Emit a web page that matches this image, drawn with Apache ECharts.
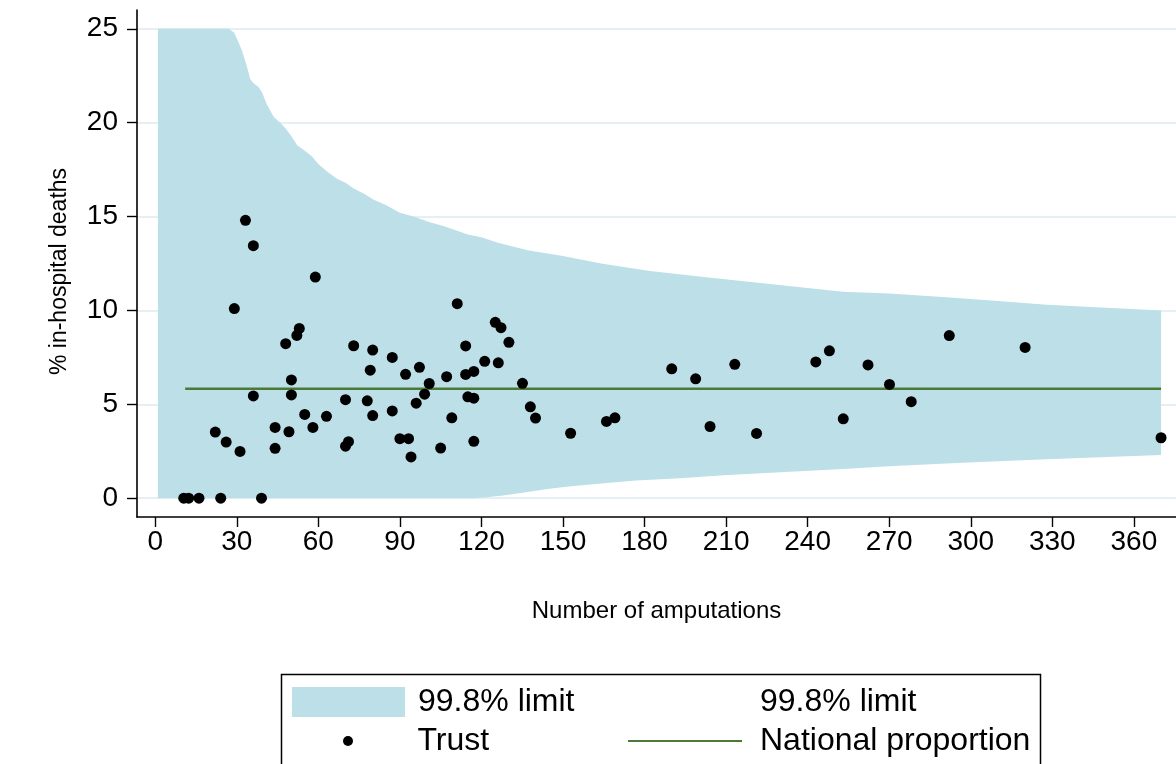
<!DOCTYPE html>
<html><head><meta charset="utf-8">
<script src="https://cdn.jsdelivr.net/npm/echarts@6/dist/echarts.min.js"></script>
<style>html,body{margin:0;padding:0;background:#fff}#c{width:1176px;height:764px}</style>
</head><body><div id="c"></div>
<script>
// ---- data ----
const xTicks = [0, 30, 60, 90, 120, 150, 180, 210, 240, 270, 300, 330, 360];
const yTicks = [0, 5, 10, 15, 20, 25];

// 99.8% control limits (upper capped at 25)
const upperN = [1, 27, 29, 30, 32, 33.7, 35, 36.2, 38, 39.3, 41, 43.6, 46, 47.9, 50, 52.2, 55, 57.7, 60, 63.2, 67, 70, 73, 77, 80.4, 85, 90, 95, 101, 106, 110, 115, 120, 126, 137, 150, 164, 182, 201, 220, 240, 253, 270, 291, 310, 328, 350, 370];
const upperPct = [25, 25, 24.8, 24.5, 23.8, 23.0, 22.3, 22.1, 21.9, 21.6, 21.0, 20.3, 20.0, 19.7, 19.3, 18.8, 18.5, 18.2, 17.8, 17.4, 17.0, 16.8, 16.5, 16.2, 15.9, 15.6, 15.2, 15.0, 14.7, 14.5, 14.3, 14.05, 13.9, 13.6, 13.2, 12.9, 12.5, 12.1, 11.8, 11.5, 11.2, 11.0, 10.9, 10.7, 10.5, 10.3, 10.15, 10.0];
const lowerN = [1, 117, 122, 128, 137, 145, 152, 165, 177, 193, 209, 230, 253, 270, 291, 310, 328, 350, 370];
const lowerPct = [0, 0, 0.05, 0.15, 0.33, 0.5, 0.63, 0.8, 0.95, 1.07, 1.22, 1.38, 1.55, 1.7, 1.85, 1.97, 2.08, 2.2, 2.3];

// Trusts: number of amputations and % in-hospital deaths
const trustN = [10.5, 12.3, 16.1, 24.1, 39.1, 22.1, 26.1, 29.1, 31.2, 33.2, 36.1, 36.1, 44.1, 44.1, 48.0, 49.2, 50.1, 50.1, 52.1, 53.0, 55.0, 58.0, 58.9, 63.0, 70.0, 70.0, 71.1, 73.0, 78.0, 79.1, 80.0, 80.0, 87.2, 87.2, 90.0, 92.1, 93.2, 94.1, 96.0, 97.2, 99.1, 100.8, 105.0, 107.2, 109.1, 111.1, 114.2, 114.2, 115.0, 117.2, 117.2, 117.2, 121.2, 125.1, 126.2, 127.2, 130.1, 135.1, 138.0, 139.9, 152.8, 166.0, 169.1, 190.0, 198.8, 204.1, 213.2, 221.2, 243.0, 248.0, 253.1, 262.2, 270.1, 278.1, 292.1, 320.0, 370.0];
const trustPct = [0, 0, 0, 0, 0, 3.52, 2.99, 10.1, 2.49, 14.8, 13.45, 5.45, 3.77, 2.66, 8.23, 3.54, 6.3, 5.5, 8.67, 9.04, 4.46, 3.77, 11.78, 4.36, 5.25, 2.77, 3.01, 8.12, 5.19, 6.82, 7.89, 4.4, 7.5, 4.65, 3.17, 6.6, 3.17, 2.2, 5.06, 6.97, 5.54, 6.11, 2.67, 6.47, 4.28, 10.36, 8.11, 6.59, 5.4, 6.75, 5.33, 3.03, 7.29, 9.37, 7.21, 9.08, 8.3, 6.12, 4.87, 4.27, 3.46, 4.09, 4.28, 6.89, 6.36, 3.82, 7.13, 3.45, 7.26, 7.85, 4.23, 7.1, 6.06, 5.14, 8.66, 8.03, 3.22];

const nationalN = [11, 370];
const nationalPct = 5.83;

// ---- chart ----
const FONT = 'Liberation Sans';
const BAND = '#bddfe8';
const GREEN = '#4b7a38';
const chart = echarts.init(document.getElementById('c'), null, {renderer: 'canvas'});

const trustData = trustN.map((n, i) => [n, trustPct[i]]);
const nationalData = nationalN.map(n => [n, nationalPct]);

const option = {
  animation: false,
  backgroundColor: '#ffffff',
  textStyle: {fontFamily: FONT},
  grid: {left: 137, right: 0, top: 10, bottom: 247, containLabel: false, outerBoundsMode: 'none'},
  xAxis: {
    type: 'value', min: -6.7, max: 375.5,
    name: 'Number of amputations', nameLocation: 'middle', nameGap: 82,
    nameTextStyle: {fontFamily: FONT, fontSize: 24, color: '#000'},
    axisLine: {show: true, onZero: false, lineStyle: {color: '#000', width: 1.6}},
    axisTick: {show: true, length: 10, customValues: xTicks, lineStyle: {color: '#000', width: 1.4}},
    axisLabel: {customValues: xTicks, fontFamily: FONT, fontSize: 28, color: '#000', margin: 11},
    splitLine: {show: false}
  },
  yAxis: {
    type: 'value', min: -1, max: 26,
    name: '% in-hospital deaths', nameLocation: 'middle', nameGap: 66, nameRotate: 90,
    nameTextStyle: {fontFamily: FONT, fontSize: 23, color: '#000', padding: [0, 16, 0, 0]},
    axisLine: {show: true, onZero: false, lineStyle: {color: '#000', width: 1.6}},
    axisTick: {show: true, length: 10, customValues: yTicks, lineStyle: {color: '#000', width: 1.4}},
    axisLabel: {customValues: yTicks, fontFamily: FONT, fontSize: 28, color: '#000', margin: 19},
    splitLine: {show: true, lineStyle: {color: '#e6eff2', width: 2}}
  },
  legend: [
    {left: 292, top: 686, padding: 0, orient: 'vertical', itemWidth: 113, itemHeight: 30,
     selectedMode: false, textStyle: {fontFamily: FONT, fontSize: 32, color: '#000', padding: [0, 0, 0, 8]},
     data: [{name: '99.8% limit', icon: 'rect'}]},
    {left: 343, top: 725, padding: 0, orient: 'vertical', itemWidth: 113, itemHeight: 10,
     selectedMode: false, textStyle: {fontFamily: FONT, fontSize: 32, color: '#000', padding: [0, 0, 0, 8]},
     data: [{name: 'Trust', icon: 'circle'}]},
    {left: 628, top: 686, padding: 0, orient: 'vertical', itemWidth: 114, itemHeight: 30,
     selectedMode: false, textStyle: {fontFamily: FONT, fontSize: 32, color: '#000', padding: [0, 0, 0, 13]},
     data: [{name: '99.8% limit', icon: 'rect', itemStyle: {color: 'rgba(0,0,0,0)', opacity: 0}}]},
    {left: 628, top: 725, padding: 0, orient: 'vertical', itemWidth: 114, itemHeight: 2,
     selectedMode: false, textStyle: {fontFamily: FONT, fontSize: 32, color: '#000', padding: [0, 0, 0, 13]},
     data: [{name: 'National proportion', icon: 'rect'}]}
  ],
  graphic: [{
    type: 'rect', left: 279, top: 672, silent: true,
    shape: {width: 759, height: 110},
    style: {fill: 'none', stroke: '#000', lineWidth: 1.5}
  }],
  series: [
    {
      name: '99.8% limit', type: 'custom', z: 2, silent: true,
      itemStyle: {color: BAND},
      data: [[upperN[0], upperPct[0]]],
      renderItem: function (params, api) {
        const pts = [];
        for (let i = 0; i < upperN.length; i++) pts.push(api.coord([upperN[i], upperPct[i]]));
        for (let i = lowerN.length - 1; i >= 0; i--) pts.push(api.coord([lowerN[i], lowerPct[i]]));
        return {type: 'polygon', shape: {points: pts}, style: {fill: BAND}};
      }
    },
    {
      name: 'National proportion', type: 'line', z: 3, silent: true,
      data: nationalData, symbol: 'none', showSymbol: false,
      lineStyle: {color: GREEN, width: 2.5}, itemStyle: {color: GREEN}
    },
    {
      name: 'Trust', type: 'scatter', z: 4, silent: true,
      data: trustData, symbol: 'circle', symbolSize: 11,
      itemStyle: {color: '#000', opacity: 1}
    }
  ]
};
chart.setOption(option);
</script>
</body></html>
